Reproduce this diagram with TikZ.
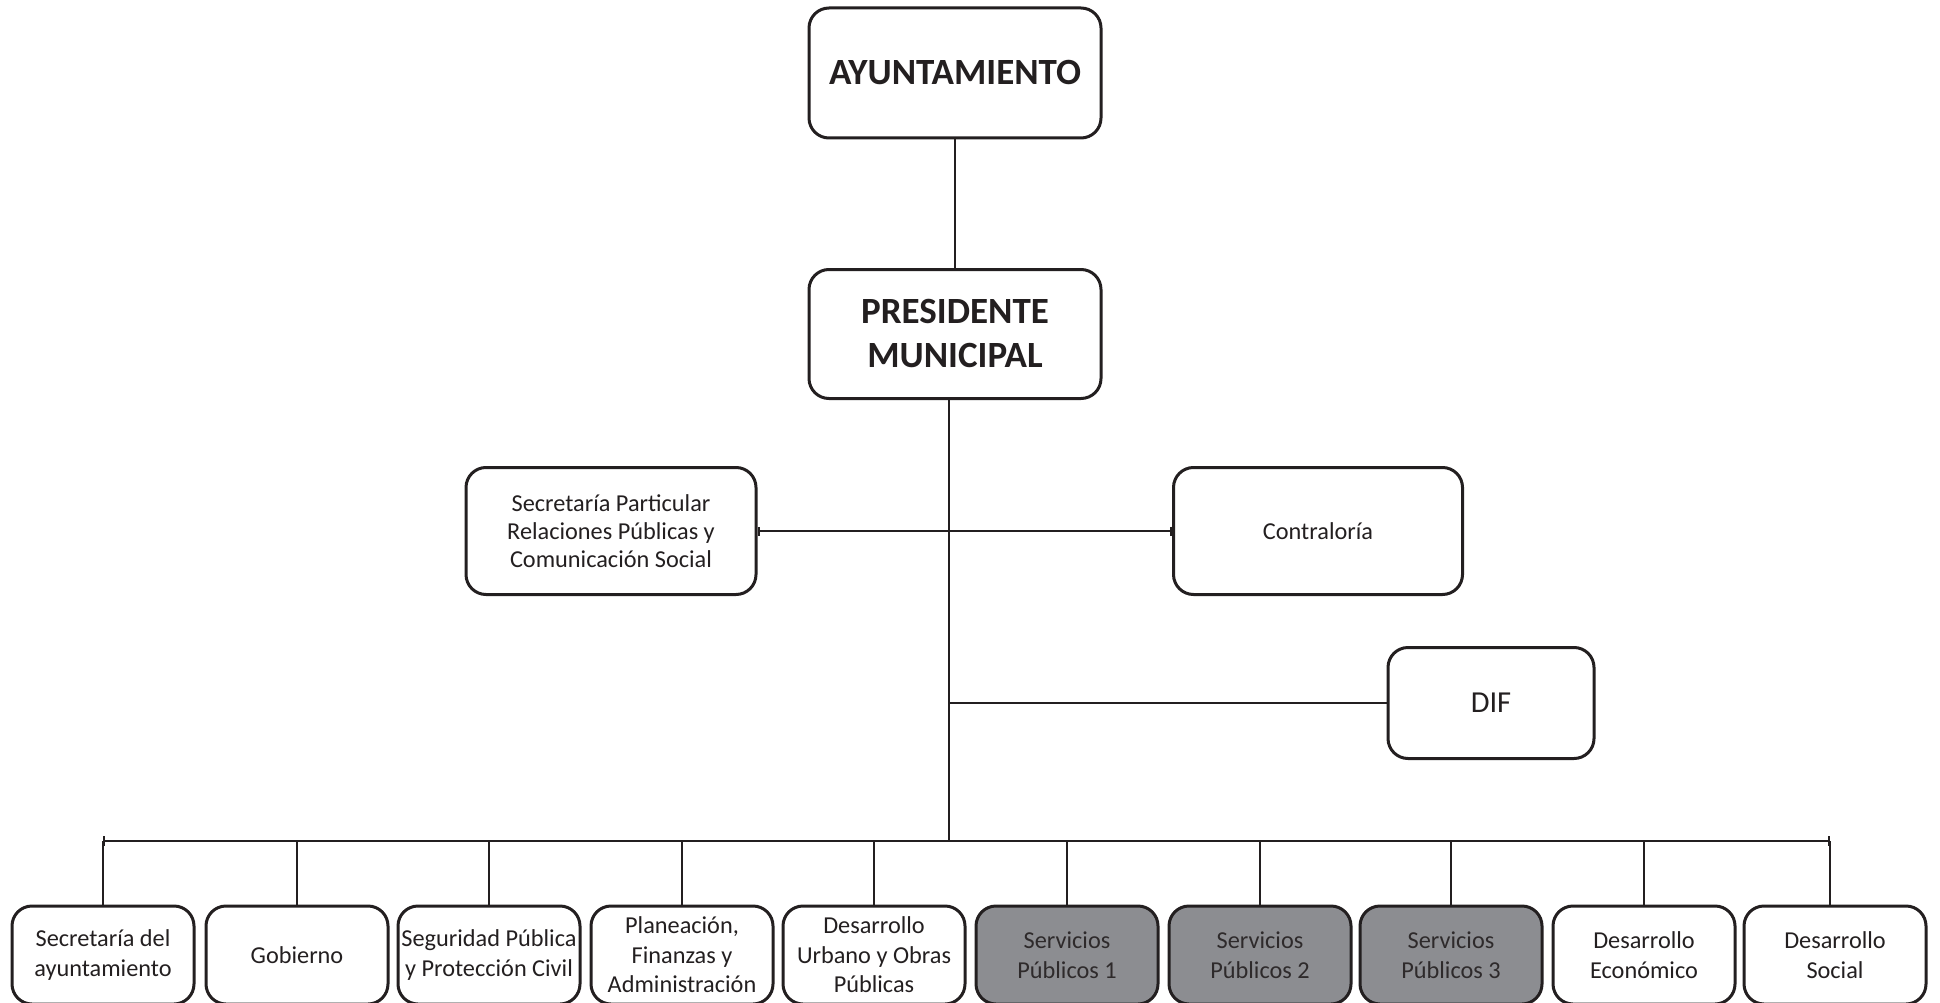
\documentclass[tikz,border=0pt]{standalone}
\usepackage{fontspec}
\setmainfont{Carlito}
\usetikzlibrary{arrows.meta}
\definecolor{ink}{HTML}{231F20}
\definecolor{servgray}{HTML}{8C8D91}
\tikzset{
  caja/.style={draw=ink, line width=3pt, rounded corners=20pt, inner sep=0pt, align=center, text=ink},
  cajagrande/.style={caja, minimum width=292pt, minimum height=130pt, font=\fontsize{37}{44}\selectfont\bfseries},
  cajamedia/.style={caja, minimum width=290pt, minimum height=127pt, font=\fontsize{24.3}{28}\selectfont},
  cajabaja/.style={caja, minimum width=182pt, minimum height=98pt, font=\fontsize{24.3}{29.5}\selectfont},
  servicio/.style={cajabaja, fill=servgray, text=ink!95},
  linea/.style={draw=ink, line width=2pt}
}
\begin{document}
\begin{tikzpicture}[x=1pt,y=-1pt]
  \useasboundingbox (0,0) rectangle (1940,1003);
  % cabeza
  \node[cajagrande] (ayunt) at (955,73) {AYUNTAMIENTO};
  \node[cajagrande, minimum height=129pt] (pres) at (955,334) {PRESIDENTE\\MUNICIPAL};
  \draw[linea] (ayunt.south) -- (pres.south |- pres.north);
  % staff
  \node[cajamedia] (secpart) at (611,531) {Secretaría Particular\\Relaciones Públicas y\\Comunicación Social};
  \node[cajamedia, minimum width=289pt] (contra) at (1318,531) {Contraloría};
  \node[caja, minimum width=206pt, minimum height=111pt, font=\fontsize{30.5}{36}\selectfont] (dif) at (1491,703) {DIF};
  \coordinate (tronco) at ([xshift=-6pt]pres.south);
  \coordinate (busizq) at (103,841); \coordinate (busder) at (1830,841);
  \draw[linea] (tronco) -- (tronco |- busizq);
  \draw[linea, {Bar[width=9pt]}-{Bar[width=9pt]}] (secpart.east) -- (contra.west);
  \draw[linea] (tronco |- dif.west) -- (dif.west);
  % direcciones
  \node[cajabaja] (secayu) at (103,955) {Secretaría del\\ayuntamiento};
  \node[cajabaja] (gob) at (297,955) {Gobierno};
  \node[cajabaja] (segpub) at (489,955) {Seguridad Pública\\y Protección Civil};
  \node[cajabaja] (plan) at (682,955) {Planeación,\\Finanzas y\\Administración};
  \node[cajabaja] (desurb) at (874,955) {Desarrollo\\Urbano y Obras\\Públicas};
  \node[servicio] (serv1) at (1067,955) {Servicios\\Públicos 1};
  \node[servicio] (serv2) at (1260,955) {Servicios\\Públicos 2};
  \node[servicio] (serv3) at (1451,955) {Servicios\\Públicos 3};
  \node[cajabaja] (deseco) at (1644,955) {Desarrollo\\Económico};
  \node[cajabaja] (dessoc) at (1835,955) {Desarrollo\\Social};
  \draw[linea, {Bar[width=10pt]}-{Bar[width=10pt]}] (busizq) -- (busder);
  \draw[linea] (secayu.north) -- (secayu.north |- busizq); \draw[linea] (gob.north) -- (gob.north |- busizq);
  \draw[linea] (segpub.north) -- (segpub.north |- busizq); \draw[linea] (plan.north) -- (plan.north |- busizq);
  \draw[linea] (desurb.north) -- (desurb.north |- busizq); \draw[linea] (serv1.north) -- (serv1.north |- busizq);
  \draw[linea] (serv2.north) -- (serv2.north |- busizq); \draw[linea] (serv3.north) -- (serv3.north |- busizq);
  \draw[linea] (deseco.north) -- (deseco.north |- busizq); \draw[linea] (busder |- dessoc.north) -- (busder);
\end{tikzpicture}
\end{document}
